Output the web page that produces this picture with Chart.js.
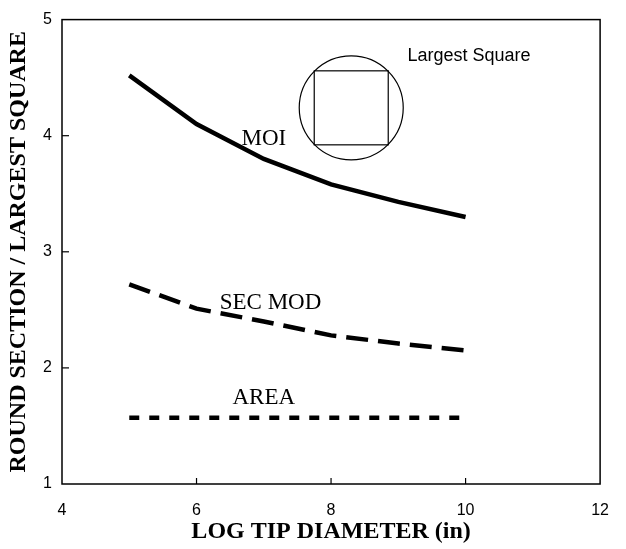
<!DOCTYPE html>
<html>
<head>
<meta charset="utf-8">
<script src="https://cdn.jsdelivr.net/npm/chart.js@4.4.1/dist/chart.umd.min.js"></script>
<style>
  html, body { margin: 0; padding: 0; background: #fff; }
  #wrap { width: 626px; height: 549px; }
</style>
</head>
<body>
<div id="wrap"><canvas id="chart"></canvas></div>
<script>
const diameters = [5, 6, 7, 8, 9, 10];
const moiValues = [4.52, 4.10, 3.80, 3.58, 3.43, 3.30];
const secModValues = [2.72, 2.51, 2.40, 2.28, 2.21, 2.15];
const areaValues = [1.57, 1.57, 1.57, 1.57, 1.57, 1.57];

const xTicks = [4, 6, 8, 10, 12];
const yTicks = [1, 2, 3, 4, 5];

// curve labels, placed in data units
const curveLabels = [
  { text: "MOI", x: 7.0, y: 3.97 },
  { text: "SEC MOD", x: 7.1, y: 2.56 },
  { text: "AREA", x: 7.0, y: 1.74 }
];

function toPoints(values) {
  return diameters.map((d, i) => ({ x: d, y: values[i] }));
}

const serif = "'Liberation Serif', 'Times New Roman', serif";
const sans = "'Liberation Sans', Arial, sans-serif";

// box, inner ticks, labels and the circle/square sketch
const extrasPlugin = {
  id: "extras",
  afterDraw(chart) {
    const ctx = chart.ctx;
    const area = chart.chartArea;
    const xs = chart.scales.x;
    const ys = chart.scales.y;
    ctx.save();
    ctx.strokeStyle = "#000";
    ctx.lineWidth = 1.5;
    ctx.strokeRect(area.left, area.top, area.right - area.left, area.bottom - area.top);

    ctx.lineWidth = 1.2;
    xTicks.slice(1, -1).forEach(v => {
      const px = xs.getPixelForValue(v);
      ctx.beginPath();
      ctx.moveTo(px, area.bottom);
      ctx.lineTo(px, area.bottom - 6);
      ctx.stroke();
    });
    yTicks.slice(1, -1).forEach(v => {
      const py = ys.getPixelForValue(v);
      ctx.beginPath();
      ctx.moveTo(area.left, py);
      ctx.lineTo(area.left + 7, py);
      ctx.stroke();
    });

    ctx.fillStyle = "#000";
    ctx.font = "23px " + serif;
    ctx.textAlign = "center";
    ctx.textBaseline = "middle";
    curveLabels.forEach(l => {
      ctx.fillText(l.text, xs.getPixelForValue(l.x), ys.getPixelForValue(l.y));
    });

    ctx.font = "18px " + sans;
    ctx.fillText("Largest Square", xs.getPixelForValue(10.05), ys.getPixelForValue(4.69));

    const cx = xs.getPixelForValue(8.3);
    const cy = ys.getPixelForValue(4.24);
    ctx.lineWidth = 1.2;
    ctx.beginPath();
    ctx.arc(cx, cy, 52, 0, Math.PI * 2);
    ctx.stroke();
    ctx.strokeRect(cx - 37, cy - 37, 74, 74);
    ctx.restore();
  }
};

new Chart(document.getElementById("chart"), {
  type: "line",
  data: {
    datasets: [{
      label: "MOI",
      data: toPoints(moiValues),
      borderColor: "#000",
      borderWidth: 4.5,
      pointRadius: 0,
      tension: 0
    }, {
      label: "SEC MOD",
      data: toPoints(secModValues),
      borderColor: "#000",
      borderWidth: 4.5,
      borderDash: [22, 10],
      pointRadius: 0,
      tension: 0
    }, {
      label: "AREA",
      data: toPoints(areaValues),
      borderColor: "#000",
      borderWidth: 4.5,
      borderDash: [10, 10],
      pointRadius: 0,
      tension: 0
    }]
  },
  options: {
    responsive: true,
    maintainAspectRatio: false,
    animation: false,
    layout: { padding: { left: 0, right: 11, top: 16, bottom: 0 } },
    plugins: {
      legend: { display: false },
      tooltip: { enabled: false }
    },
    scales: {
      x: {
        type: "linear",
        min: 4,
        max: 12,
        grid: { display: false, drawTicks: false },
        border: { display: false },
        afterBuildTicks: s => { s.ticks = xTicks.map(v => ({ value: v })); },
        afterFit: s => { s.height = 65; },
        ticks: {
          color: "#000",
          padding: 17,
          font: { family: sans, size: 16 }
        },
        title: {
          display: true,
          text: "LOG TIP DIAMETER (in)",
          color: "#000",
          padding: { top: 0, bottom: 3 },
          font: { family: serif, size: 24, weight: "bold" }
        }
      },
      y: {
        min: 1,
        max: 5,
        grid: { display: false, drawTicks: false },
        border: { display: false },
        afterBuildTicks: s => { s.ticks = yTicks.map(v => ({ value: v })); },
        afterFit: s => { s.width = 62; },
        ticks: {
          color: "#000",
          padding: 10,
          font: { family: sans, size: 16 }
        },
        title: {
          display: true,
          text: "ROUND SECTION / LARGEST SQUARE",
          color: "#000",
          padding: { top: 4, bottom: 0 },
          font: { family: serif, size: 24, weight: "bold" }
        }
      }
    }
  },
  plugins: [extrasPlugin]
});
</script>
</body>
</html>
